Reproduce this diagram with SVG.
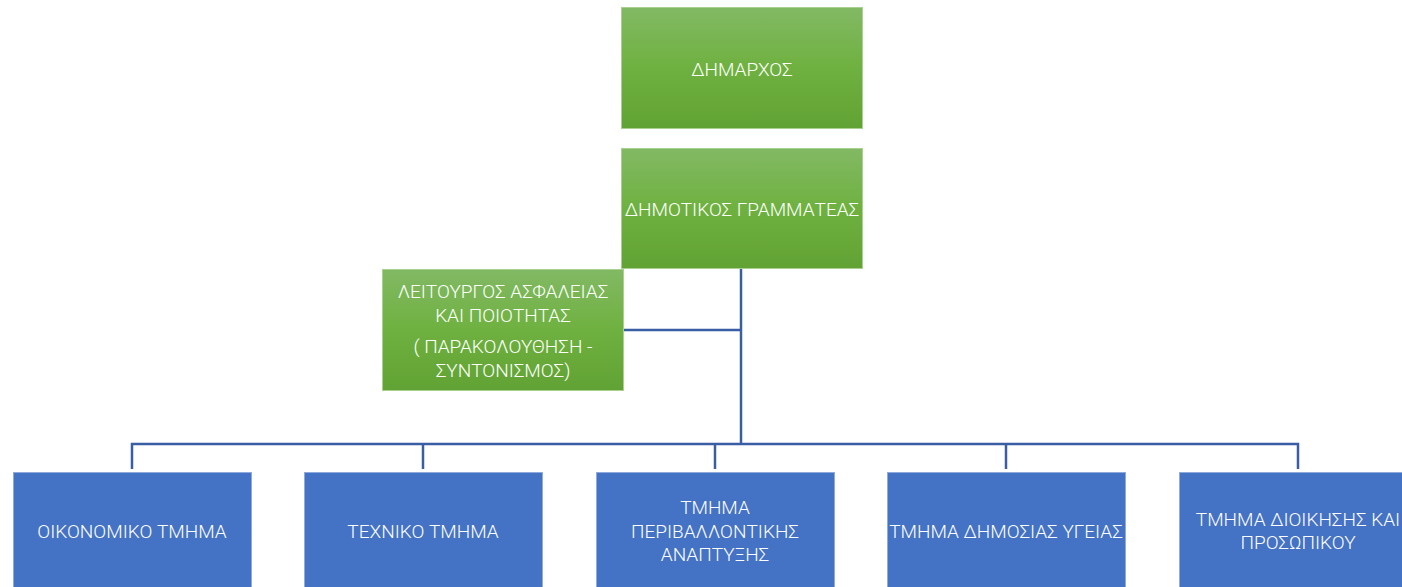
<svg xmlns="http://www.w3.org/2000/svg" width="1402" height="587" viewBox="0 0 1402 587">
<defs>
<linearGradient id="g" x1="0" y1="0" x2="0" y2="1">
<stop offset="0" stop-color="#82b964"/>
<stop offset="0.5" stop-color="#6fb140"/>
<stop offset="1" stop-color="#61a234"/>
</linearGradient>
<style>
.gr{fill:url(#g);stroke:#a9d08e;stroke-width:1}
.bl{fill:#4472c4;stroke:#8faadc;stroke-width:1}
.t{font-family:Roboto,"Liberation Sans",sans-serif;font-weight:300;font-size:19px;fill:#ffffff;text-anchor:middle}
.c{fill:none;stroke:#3a5ea3;stroke-width:2.5}
</style>
</defs>
<g id="connectors">
<path class="c" d="M741 268 V444"/>
<path class="c" d="M624 330 H741"/>
<path class="c" d="M132 469 V444 H1298 V469"/>
<path class="c" d="M423 444 V469"/>
<path class="c" d="M715 444 V469"/>
<path class="c" d="M1006 444 V469"/>
</g>
<g id="n-dimarxos">
<rect class="gr" x="621.5" y="7.5" width="241" height="121"/>
<text class="t" x="742" y="76">ΔΗΜΑΡΧΟΣ</text>
</g>
<g id="n-grammateas">
<rect class="gr" x="621.5" y="148.5" width="241" height="120"/>
<text class="t" x="742" y="216">ΔΗΜΟΤΙΚΟΣ ΓΡΑΜΜΑΤΕΑΣ</text>
</g>
<g id="n-asfaleia">
<rect class="gr" x="382.5" y="269.5" width="241" height="121"/>
<text class="t" x="503" y="298">ΛΕΙΤΟΥΡΓΟΣ ΑΣΦΑΛΕΙΑΣ</text>
<text class="t" x="503" y="322">ΚΑΙ ΠΟΙΟΤΗΤΑΣ</text>
<text class="t" x="503" y="353">( ΠΑΡΑΚΟΛΟΥΘΗΣΗ -</text>
<text class="t" x="503" y="377">ΣΥΝΤΟΝΙΣΜΟΣ)</text>
</g>
<g id="n-oikonomiko">
<rect class="bl" x="13.5" y="472.5" width="238" height="120"/>
<text class="t" x="132" y="538">ΟΙΚΟΝΟΜΙΚΟ ΤΜΗΜΑ</text>
</g>
<g id="n-texniko">
<rect class="bl" x="304.5" y="472.5" width="238" height="120"/>
<text class="t" x="423" y="538">ΤΕΧΝΙΚΟ ΤΜΗΜΑ</text>
</g>
<g id="n-perivallon">
<rect class="bl" x="596.5" y="472.5" width="238" height="120"/>
<text class="t" x="715" y="514">ΤΜΗΜΑ</text>
<text class="t" x="715" y="538">ΠΕΡΙΒΑΛΛΟΝΤΙΚΗΣ</text>
<text class="t" x="715" y="561">ΑΝΑΠΤΥΞΗΣ</text>
</g>
<g id="n-ygeia">
<rect class="bl" x="887.5" y="472.5" width="238" height="120"/>
<text class="t" x="1006" y="538">ΤΜΗΜΑ ΔΗΜΟΣΙΑΣ ΥΓΕΙΑΣ</text>
</g>
<g id="n-dioikisi">
<rect class="bl" x="1179.5" y="472.5" width="238" height="120"/>
<text class="t" x="1298" y="526">ΤΜΗΜΑ ΔΙΟΙΚΗΣΗΣ ΚΑΙ</text>
<text class="t" x="1298" y="549">ΠΡΟΣΩΠΙΚΟΥ</text>
</g>
</svg>
